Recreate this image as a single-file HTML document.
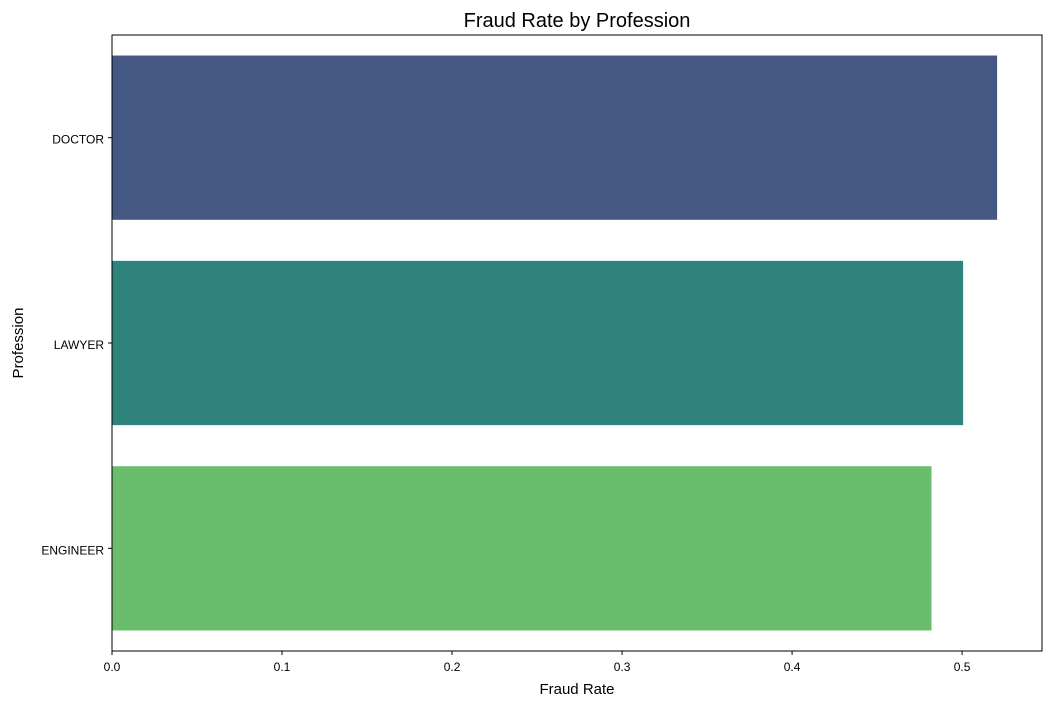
<!DOCTYPE html>
<html><head><meta charset="utf-8"><style>
body{margin:0;background:#fff;font-family:"Liberation Sans","DejaVu Sans",sans-serif;}
</style></head><body>
<svg id="chart" width="1051" height="706" xmlns="http://www.w3.org/2000/svg">
<rect width="1051" height="706" fill="#fff"/>
<text x="577" y="27" font-size="20" text-anchor="middle" fill="#000">Fraud Rate by Profession</text>
<g id="bars"></g>
<g id="xticks"></g>
<g id="yticks"></g>
<rect x="112" y="35" width="930" height="616" fill="none" stroke="#000" stroke-width="1"/>
<text x="577" y="694" font-size="15" text-anchor="middle">Fraud Rate</text>
<text x="23" y="343" font-size="15" text-anchor="middle" transform="rotate(-90 23 343)">Profession</text>
</svg>
<script>
const categories = ["DOCTOR","LAWYER","ENGINEER"];
const values = [0.5206, 0.5006, 0.482];
const colors = ["#455883","#2e837c","#6bbd6e"];
const xTicks = [0,0.1,0.2,0.3,0.4,0.5];
const xTickLabels = ["0.0","0.1","0.2","0.3","0.4","0.5"];
{
const NS="http://www.w3.org/2000/svg";
const pL=112,pR=1042,pT=35,pB=651,xMax=0.547;
const xs=v=>pL+(v/xMax)*(pR-pL);
const band=(pB-pT)/categories.length;
const yc=i=>pT+band*(i+0.5);
const bh=band*0.8;
const gB=document.getElementById('bars'),gX=document.getElementById('xticks'),gY=document.getElementById('yticks');
categories.forEach((c,i)=>{
  const r=document.createElementNS(NS,'rect');
  r.setAttribute('x',pL);r.setAttribute('y',yc(i)-bh/2);
  r.setAttribute('width',xs(values[i])-pL);r.setAttribute('height',bh);
  r.setAttribute('fill',colors[i]);
  
  
  gB.appendChild(r);
  const t=document.createElementNS(NS,'line');
  t.setAttribute('x1',pL-4);t.setAttribute('x2',pL);t.setAttribute('y1',yc(i));t.setAttribute('y2',yc(i));t.setAttribute('stroke','#000');
  gY.appendChild(t);
  const l=document.createElementNS(NS,'text');
  l.setAttribute('x',pL-8);l.setAttribute('y',yc(i)+6);l.setAttribute('text-anchor','end');l.setAttribute('font-size','12');
  l.textContent=c;
  
  
  gY.appendChild(l);
});
xTicks.forEach((v,i)=>{
  const x=xs(v);
  const t=document.createElementNS(NS,'line');
  t.setAttribute('x1',x);t.setAttribute('x2',x);t.setAttribute('y1',pB);t.setAttribute('y2',pB+4);t.setAttribute('stroke','#000');
  gX.appendChild(t);
  const l=document.createElementNS(NS,'text');
  l.setAttribute('x',x);l.setAttribute('y',pB+20);l.setAttribute('text-anchor','middle');l.setAttribute('font-size','12');
  l.textContent=xTickLabels[i];
  
  
  gX.appendChild(l);
});
}
</script>
</body></html>
